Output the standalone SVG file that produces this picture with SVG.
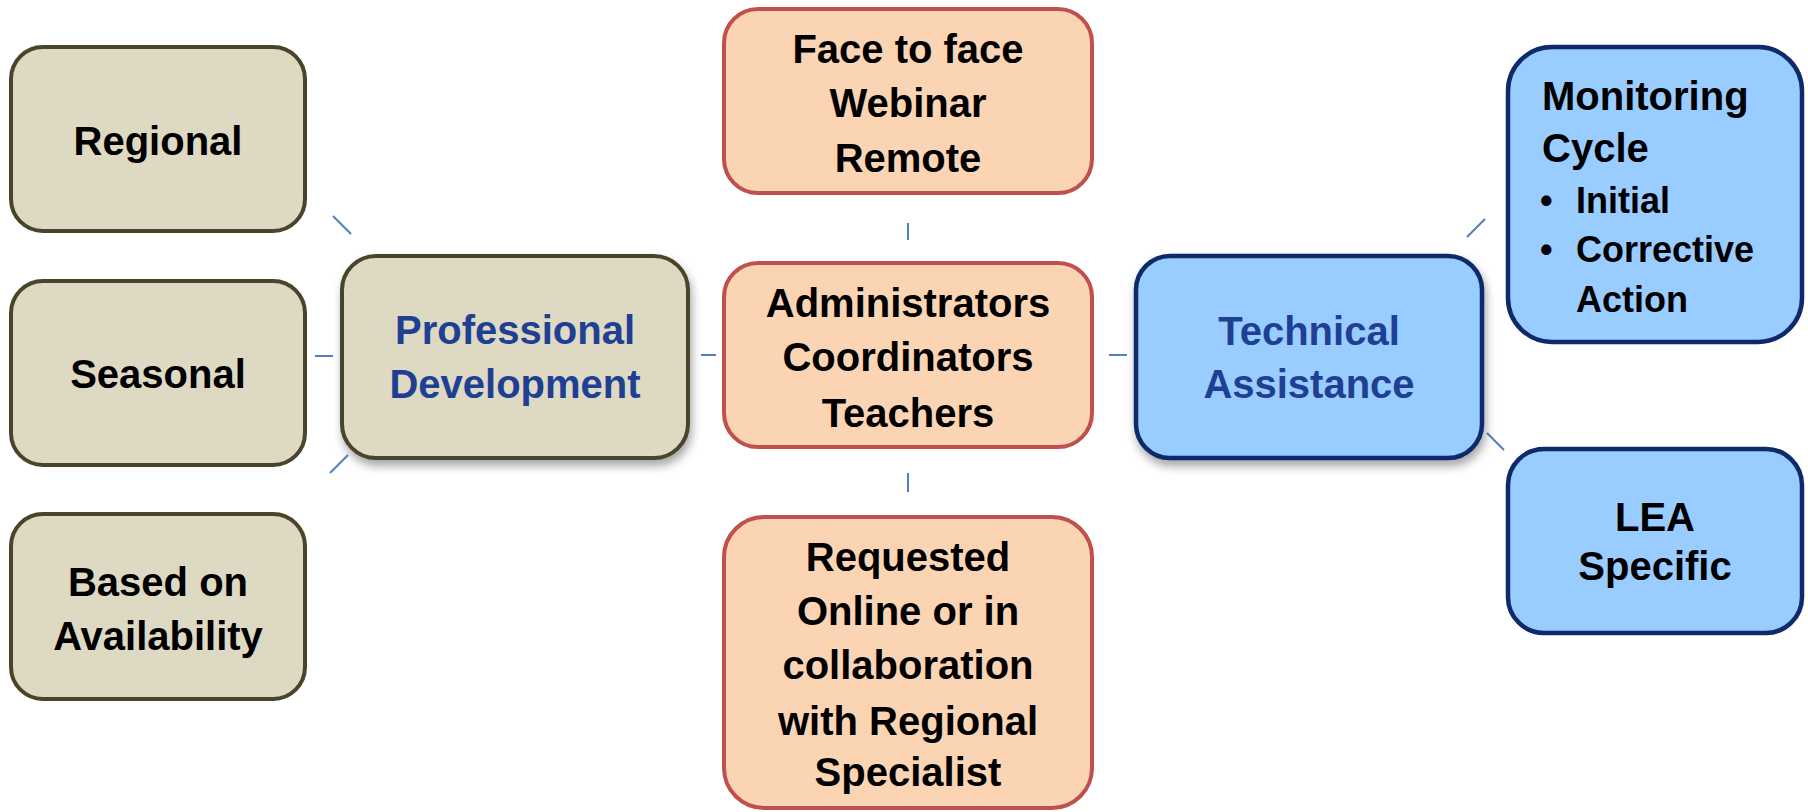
<svg xmlns="http://www.w3.org/2000/svg" width="1808" height="812" viewBox="0 0 1808 812">
<style>
text{font-family:"Liberation Sans",Arial,sans-serif;font-weight:bold;font-size:40px;fill:#000;text-anchor:middle}
.tan{fill:#DDD9C3;stroke:#4A452A;stroke-width:4}
.pink{fill:#FBD4B4;stroke:#C0504D;stroke-width:4}
.blue{fill:#99CCFF;stroke:#0E2A6B;stroke-width:4.5}
.hub{fill:#1F3F93}
.conn line{stroke:#4F81BD;stroke-width:2}
.left{text-anchor:start}
.sm{font-size:36px}
</style>
<defs>
<filter id="sh" x="-10%" y="-10%" width="125%" height="130%">
<feDropShadow dx="2" dy="6" stdDeviation="5" flood-color="#000" flood-opacity="0.35"/>
</filter>
</defs>
<g id="connectors" class="conn">
<line x1="333" y1="216" x2="351" y2="234"/>
<line x1="315" y1="356" x2="333" y2="356"/>
<line x1="330" y1="473" x2="348" y2="455"/>
<line x1="701" y1="355" x2="716" y2="355"/>
<line x1="908" y1="223" x2="908" y2="240"/>
<line x1="908" y1="473" x2="908" y2="492"/>
<line x1="1109" y1="355" x2="1127" y2="355"/>
<line x1="1467" y1="237" x2="1485" y2="219"/>
<line x1="1487" y1="433" x2="1504" y2="450"/>
</g>
<g id="regional">
<rect class="tan" x="11" y="47" width="294" height="184" rx="32"/>
<text x="158" y="155">Regional</text>
</g>
<g id="seasonal">
<rect class="tan" x="11" y="281" width="294" height="184" rx="32"/>
<text x="158" y="388">Seasonal</text>
</g>
<g id="availability">
<rect class="tan" x="11" y="514" width="294" height="185" rx="32"/>
<text x="158" y="596">Based on</text>
<text x="158" y="650">Availability</text>
</g>
<g id="professional-development">
<rect class="tan" x="342" y="256" width="346" height="202" rx="34" filter="url(#sh)"/>
<text class="hub" x="515" y="344">Professional</text>
<text class="hub" x="515" y="398">Development</text>
</g>
<g id="delivery">
<rect class="pink" x="724" y="9" width="368" height="184" rx="34"/>
<text x="908" y="63">Face to face</text>
<text x="908" y="117">Webinar</text>
<text x="908" y="172">Remote</text>
</g>
<g id="audience">
<rect class="pink" x="724" y="263" width="368" height="184" rx="34"/>
<text x="908" y="317">Administrators</text>
<text x="908" y="371">Coordinators</text>
<text x="908" y="427">Teachers</text>
</g>
<g id="requested">
<rect class="pink" x="724" y="517" width="368" height="291" rx="40"/>
<text x="908" y="571">Requested</text>
<text x="908" y="625">Online or in</text>
<text x="908" y="679">collaboration</text>
<text x="908" y="735">with Regional</text>
<text x="908" y="786">Specialist</text>
</g>
<g id="technical-assistance">
<rect class="blue" x="1136" y="256" width="346" height="202" rx="34" filter="url(#sh)"/>
<text class="hub" x="1309" y="345">Technical</text>
<text class="hub" x="1309" y="398">Assistance</text>
</g>
<g id="monitoring">
<rect class="blue" x="1508" y="47" width="294" height="295" rx="44"/>
<text class="left" x="1542" y="110">Monitoring</text>
<text class="left" x="1542" y="162">Cycle</text>
<text class="left sm" x="1540" y="213">•</text>
<text class="left sm" x="1576" y="213">Initial</text>
<text class="left sm" x="1540" y="262">•</text>
<text class="left sm" x="1576" y="262">Corrective</text>
<text class="left sm" x="1576" y="312">Action</text>
</g>
<g id="lea">
<rect class="blue" x="1508" y="449" width="294" height="184" rx="36"/>
<text x="1655" y="531">LEA</text>
<text x="1655" y="580">Specific</text>
</g>
</svg>
